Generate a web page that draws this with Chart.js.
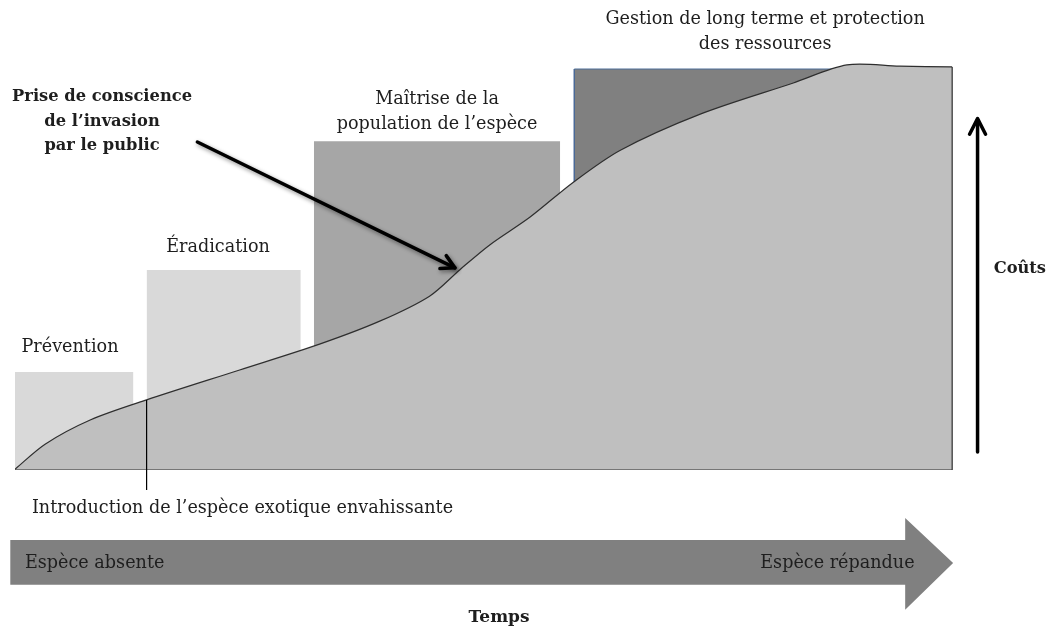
<!DOCTYPE html>
<html>
<head>
<meta charset="utf-8">
<script src="https://cdn.jsdelivr.net/npm/chart.js@4"></script>
<style>
  html,body{margin:0;padding:0;background:#fff;}
  #wrap{width:1053px;height:631px;position:relative;}
</style>
</head>
<body>
<div id="wrap"><canvas id="chart"></canvas></div>
<script>
// phases (x = temps 0..100, y = coûts 0..100)
const phaseLabels = [['Prévention'], ['Éradication'], ['Maîtrise de la', 'population de l’espèce'], ['Gestion de long terme et protection', 'des ressources']];
const phaseStart = [0, 14.0, 31.8, 59.5];
const phaseEnd = [12.6, 30.4, 58.0, 99.7];
const phaseCost = [23.9, 48.8, 80.2, 97.8];
const phaseColors = ['#d9d9d9', '#d9d9d9', '#a6a6a6', '#808080'];

// courbe de l'invasion
const curveX = [0, 3.2, 8.0, 14.0, 23.9, 32.4, 38.8, 44.1, 47.3, 50.5, 54.8, 59.4, 64.4, 72.9, 82.8, 88.5, 94.1, 99.7];
const curveY = [0.2, 6.3, 12.2, 17.1, 24.4, 30.7, 36.3, 42.4, 48.8, 54.9, 61.7, 70.2, 78.0, 86.8, 94.4, 98.8, 98.5, 98.3];

const introX = 14.0;
const awarenessLabel = ['Prise de conscience', 'de l’invasion', 'par le public'];

const SERIF = '"DejaVu Serif", serif';
const TXT = '#1e1e1e';

const datasets = [];
phaseStart.forEach((s, i) => {
  datasets.push({
    data: [{x: s, y: phaseCost[i]}, {x: phaseEnd[i], y: phaseCost[i]}],
    showLine: true, fill: i >= 2 ? {value: -0.7} : 'origin',
    backgroundColor: phaseColors[i], borderWidth: 0, pointRadius: 0, order: 10 - i
  });
});
// fine bordure bleue de la dernière phase
datasets.push({
  data: [{x: phaseEnd[3], y: phaseCost[3]}, {x: phaseStart[3], y: phaseCost[3]}, {x: phaseStart[3], y: -0.7}, {x: phaseEnd[3], y: -0.7}],
  showLine: true, fill: false, borderColor: '#4a6a96', borderWidth: 1, pointRadius: 0, order: 3
});
datasets.push({
  data: curveX.map((x, i) => ({x, y: curveY[i]})),
  showLine: true, fill: 'origin', backgroundColor: '#bfbfbf',
  borderColor: '#2e2e2e', borderWidth: 1.2, tension: 0.3, pointRadius: 0, order: 1
});
datasets.push({
  data: [{x: curveX[curveX.length-1], y: curveY[curveY.length-1]}, {x: curveX[curveX.length-1], y: 0}, {x: 0, y: 0}],
  showLine: true, fill: false, borderColor: '#2e2e2e', borderWidth: 1.2, pointRadius: 0, order: 0
});

function line(ctx, x1, y1, x2, y2){ ctx.beginPath(); ctx.moveTo(x1, y1); ctx.lineTo(x2, y2); ctx.stroke(); }

const annotations = {
  id: 'annotations',
  afterDatasetsDraw(chart){
    const ctx = chart.ctx, X = v => chart.scales.x.getPixelForValue(v), Y = v => chart.scales.y.getPixelForValue(v);
    ctx.save();
    // introduction
    ctx.strokeStyle = '#000'; ctx.lineWidth = 1.2;
    line(ctx, X(introX), Y(17.1), X(introX), Y(-4.9));

    // flèche du temps
    ctx.fillStyle = '#808080';
    ctx.beginPath();
    ctx.moveTo(X(-0.5), Y(-17.1)); ctx.lineTo(X(94.7), Y(-17.1)); ctx.lineTo(X(94.7), Y(-11.7));
    ctx.lineTo(X(99.8), Y(-22.7));
    ctx.lineTo(X(94.7), Y(-34.1)); ctx.lineTo(X(94.7), Y(-28.0)); ctx.lineTo(X(-0.5), Y(-28.0));
    ctx.closePath(); ctx.fill();

    // flèche des coûts
    ctx.strokeStyle = '#000'; ctx.lineWidth = 3.5; ctx.lineCap = 'round'; ctx.lineJoin = 'round';
    const cx = X(102.4);
    line(ctx, cx, Y(4.4), cx, Y(85.5));
    ctx.beginPath(); ctx.moveTo(cx - 8, Y(81.9)); ctx.lineTo(cx, Y(85.7)); ctx.lineTo(cx + 8, Y(81.9)); ctx.stroke();

    // flèche "prise de conscience"
    ctx.shadowColor = 'rgba(0,0,0,0.45)'; ctx.shadowBlur = 4; ctx.shadowOffsetX = 1.5; ctx.shadowOffsetY = 2;
    const x1 = X(19.4), y1 = Y(80.0), x2 = X(46.8), y2 = Y(49.3);
    line(ctx, x1, y1, x2, y2);
    const a = Math.atan2(y2 - y1, x2 - x1);
    ctx.beginPath();
    ctx.moveTo(x2 + 15*Math.cos(a + Math.PI - 0.5), y2 + 15*Math.sin(a + Math.PI - 0.5));
    ctx.lineTo(x2, y2);
    ctx.lineTo(x2 + 15*Math.cos(a + Math.PI + 0.5), y2 + 15*Math.sin(a + Math.PI + 0.5));
    ctx.stroke();
    ctx.restore();
  },
  afterDraw(chart){
    const ctx = chart.ctx, X = v => chart.scales.x.getPixelForValue(v), Y = v => chart.scales.y.getPixelForValue(v);
    ctx.save();
    ctx.fillStyle = TXT; ctx.textBaseline = 'middle';
    ctx.font = '17.6px ' + SERIF; ctx.textAlign = 'center';
    const labelPos = [[5.85, 29.8], [21.6, 54.4], [44.9, 90.5], [79.8, 109.8]];
    phaseLabels.forEach((lines, i) => {
      lines.forEach((t, j) => ctx.fillText(t, X(labelPos[i][0]), Y(labelPos[i][1] - j*6.1)));
    });
    ctx.textAlign = 'left';
    ctx.fillText('Introduction de l’espèce exotique envahissante', X(1.8), Y(-9.3));
    ctx.fillText('Espèce absente', X(1.06), Y(-22.7));
    ctx.textAlign = 'right';
    ctx.fillText('Espèce répandue', X(95.7), Y(-22.7));

    ctx.font = 'bold 16.3px ' + SERIF; ctx.textAlign = 'center';
    awarenessLabel.forEach((t, j) => ctx.fillText(t, X(9.26), Y(91.0 - j*6.0)));
    ctx.fillText('Coûts', X(106.9), Y(49.0));
    ctx.font = 'bold 17px ' + SERIF;
    ctx.fillText('Temps', X(51.5), Y(-36.1));
    ctx.restore();
  }
};

new Chart(document.getElementById('chart'), {
  type: 'scatter',
  data: {datasets},
  options: {
    responsive: true, maintainAspectRatio: false, animation: false,
    layout: {padding: {left: 15, right: 98, top: 60, bottom: 161}},
    plugins: {legend: {display: false}, tooltip: {enabled: false}},
    scales: {
      x: {type: 'linear', min: 0, max: 100, display: false},
      y: {type: 'linear', min: 0, max: 100, display: false}
    }
  },
  plugins: [annotations]
});
</script>
</body>
</html>
